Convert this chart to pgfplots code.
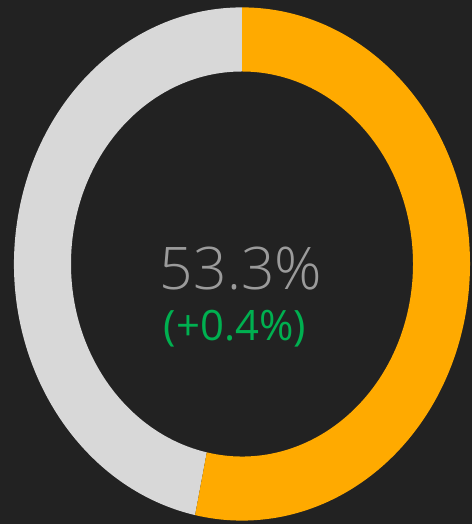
\documentclass[border=0pt]{standalone}
\usepackage{pgfplots}
\usepackage{pgfplotstable}
\pgfplotsset{compat=1.18}
\usepackage{fontspec}
\setmainfont{Open Sans}
\newfontfamily\lightfont{Open Sans Light}

\definecolor{bgdark}{HTML}{222222}
\definecolor{ringorange}{HTML}{FFAA00}
\definecolor{ringgray}{HTML}{D8D8D8}
\definecolor{valgray}{HTML}{9B9B9B}
\definecolor{deltagreen}{HTML}{00B050}

% share shown in the donut, and its change
\pgfplotstableread{
label value
share 53.3
rest  46.7
}\donutdata
\def\deltaval{0.4}
\pgfplotstablegetelem{0}{value}\of\donutdata
\let\shareval\pgfplotsretval
\pgfmathsetmacro\endang{90-3.6*\shareval}

\begin{document}
\begin{tikzpicture}
\begin{axis}[
    x=1bp, y=1bp,
    xmin=0, xmax=472, ymin=0, ymax=524,
    scale only axis, hide axis, clip=false,
]
% background
\fill[bgdark] (axis cs:0,0) rectangle (axis cs:472,524);
\coordinate (bl) at (axis cs:0,0);
\coordinate (tr) at (axis cs:472,524);
\begin{scope}[shift={(axis cs:242,260)}]
  % remaining part (gray), clockwise from the end of the share back to the top
  \fill[ringgray] (\endang:228bp and 256.6bp)
      arc[start angle=\endang, end angle=-270, x radius=228bp, y radius=256.6bp]
      -- (-270:171bp and 192.5bp)
      arc[start angle=-270, end angle=\endang, x radius=171bp, y radius=192.5bp]
      -- cycle;
  % share (orange), clockwise from the top
  \fill[ringorange] (90:228bp and 256.6bp)
      arc[start angle=90, end angle=\endang, x radius=228bp, y radius=256.6bp]
      -- (\endang:171bp and 192.5bp)
      arc[start angle=\endang, end angle=90, x radius=171bp, y radius=192.5bp]
      -- cycle;
\end{scope}
\node[anchor=base, inner sep=0pt, text=valgray, font=\lightfont\fontsize{59}{59}\selectfont]
    at (axis cs:241,234) {\shareval\%};
\node[anchor=base, inner sep=0pt, text=deltagreen, font=\fontsize{42}{42}\selectfont]
    at (axis cs:235,183) {(+\deltaval\%)};
\end{axis}
\pgfresetboundingbox
\path[use as bounding box] (bl) rectangle (tr);
\end{tikzpicture}
\end{document}
